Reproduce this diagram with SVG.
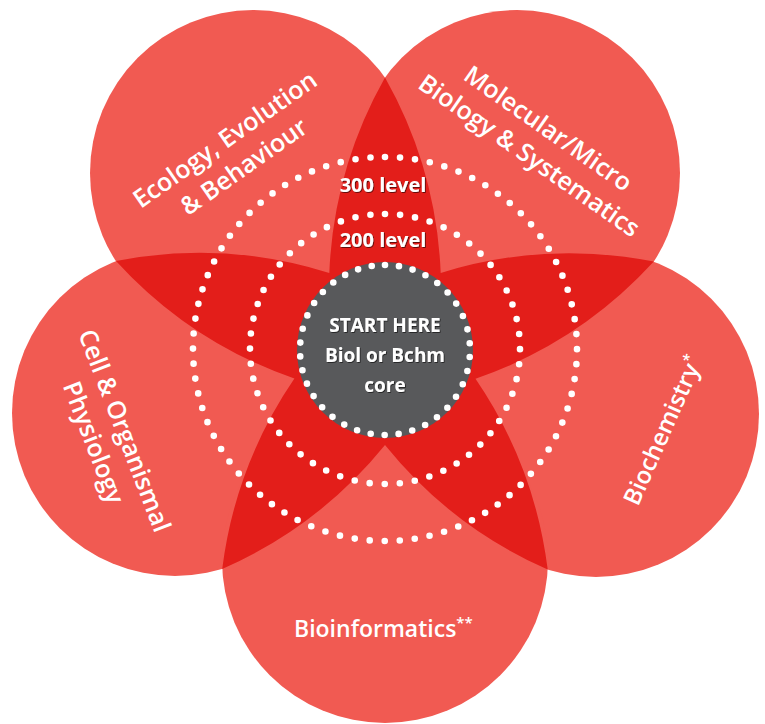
<svg xmlns="http://www.w3.org/2000/svg" width="765" height="724" viewBox="0 0 765 724">
<style>
.petal{fill:#F15A52}
.star{fill:#E31E1A}
.lbl{fill:#fff;font-family:"Open Sans","Noto Sans","Liberation Sans",sans-serif;font-weight:600;font-size:25px}
.sup{font-size:15px}
.ctr{fill:#fff;font-family:"Open Sans","Noto Sans","Liberation Sans",sans-serif;font-weight:700;text-anchor:middle}
.dots{fill:none;stroke:#fff;stroke-width:6.6;stroke-linecap:round}
</style>
<defs>
<filter id="sh" x="-10%" y="-30%" width="120%" height="160%">
<feDropShadow dx="0.8" dy="0.8" stdDeviation="0.7" flood-color="#000" flood-opacity="0.7"/>
</filter>
<clipPath id="union">
<circle cx="253" cy="173" r="163"/>
<circle cx="517" cy="173" r="163"/>
<circle cx="175" cy="413" r="163"/>
<circle cx="596" cy="414" r="163"/>
<circle cx="385" cy="560" r="163"/>
</clipPath>
</defs>
<rect width="765" height="724" fill="#fff"/>
<g id="circles">
<circle class="petal" cx="253" cy="173" r="163"/>
<circle class="petal" cx="517" cy="173" r="163"/>
<circle class="petal" cx="175" cy="413" r="163"/>
<circle class="petal" cx="596" cy="414" r="163"/>
<circle class="petal" cx="385" cy="560" r="163"/>
</g>
<g id="overlaps" clip-path="url(#union)">
<path class="star" d="M385 77.4 A434 434 0 0 1 440.7 273 A434 434 0 0 1 653.8 261.6 A434 434 0 0 1 475.5 378.8 A434 434 0 0 1 547.7 569.6 A434 434 0 0 1 385 445 A434 434 0 0 1 222.2 569 A434 434 0 0 1 294.4 378.6 A434 434 0 0 1 116 261 A434 434 0 0 1 329.3 273 A434 434 0 0 1 385 77.4 Z"/>
</g>
<g id="ecology">
<g transform="translate(235,154) rotate(-35)">
<text class="lbl" text-anchor="middle" x="0" y="-9">Ecology, Evolution</text>
<text class="lbl" text-anchor="middle" x="0" y="24">&amp; Behaviour</text>
</g>
</g>
<g id="molecular">
<g transform="translate(538,143) rotate(35)">
<text class="lbl" text-anchor="middle" x="0" y="-9">Molecular/Micro</text>
<text class="lbl" text-anchor="middle" x="0" y="24">Biology &amp; Systematics</text>
</g>
</g>
<g id="cell">
<g transform="translate(108,437) rotate(69)">
<text class="lbl" text-anchor="middle" x="0" y="-9">Cell &amp; Organismal</text>
<text class="lbl" text-anchor="middle" x="0" y="24">Physiology</text>
</g>
</g>
<g id="biochemistry">
<text class="lbl" style="font-size:24px" transform="translate(638,507) rotate(-66)">Biochemistry<tspan class="sup" dy="-9">*</tspan></text>
</g>
<g id="bioinformatics">
<text class="lbl" style="font-size:23px" x="294" y="637">Bioinformatics<tspan class="sup" dy="-9">**</tspan></text>
</g>
<g id="level300">
<circle class="dots" cx="385" cy="349" r="192" stroke-dasharray="0 15.08" transform="rotate(-90 385 349)"/>
<text class="ctr" x="383" y="192" font-size="20" filter="url(#sh)">300 level</text>
</g>
<g id="level200">
<circle class="dots" cx="385" cy="349" r="135" stroke-dasharray="0 15.15" transform="rotate(-90 385 349)"/>
<text class="ctr" x="383" y="247" font-size="20" filter="url(#sh)">200 level</text>
</g>
<g id="core">
<circle cx="385" cy="350" r="88" fill="#58595B"/>
<circle class="dots" cx="385" cy="350" r="85" stroke-dasharray="0 14.05" transform="rotate(-90 385 350)"/>
<text class="ctr" x="385" y="332" font-size="19" filter="url(#sh)">START HERE</text>
<text class="ctr" x="385" y="362" font-size="19" filter="url(#sh)">Biol or Bchm</text>
<text class="ctr" x="385" y="392" font-size="19" filter="url(#sh)">core</text>
</g>
</svg>
